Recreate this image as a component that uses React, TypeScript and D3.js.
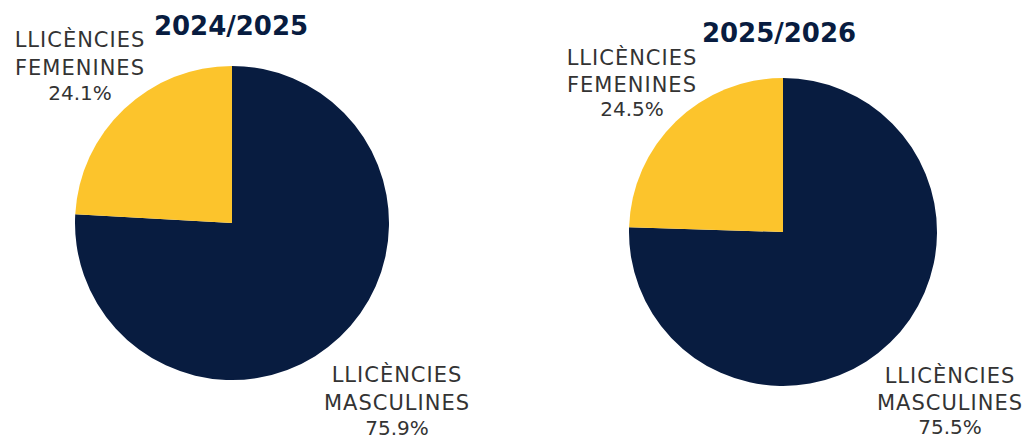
import React from "react";
import * as d3 from "d3";

const seasons = ["2024/2025", "2025/2026"];
const categoryLines = [
  ["LLICÈNCIES", "MASCULINES"],
  ["LLICÈNCIES", "FEMENINES"],
];
const mascValues = [75.9, 75.5];
const femValues = [24.1, 24.5];

const NAVY = "#081c40";
const YELLOW = "#fcc42c";
const GRAY = "#333333";

const layouts = [
  { cx: 232, cy: 223, r: 157, titleX: 231, titleY: 35, femX: 80, femY: 47, mascX: 397, mascY: 382, lh: 28 },
  { cx: 783, cy: 232, r: 154, titleX: 779, titleY: 42, femX: 632, femY: 65, mascX: 950, mascY: 383, lh: 27 },
];

function Label({ x, y, lh, lines, pct }: { x: number; y: number; lh: number; lines: string[]; pct: string }) {
  return (
    <g fill={GRAY} fontFamily="'DejaVu Sans', sans-serif" fontSize={21} textAnchor="middle">
      {lines.map((l, i) => (
        <text key={i} x={x} y={y + i * lh} letterSpacing={1}>{l}</text>
      ))}
      <text x={x} y={y + lines.length * lh - 3} fontSize={20}>{pct}</text>
    </g>
  );
}

export default function App() {
  const pie = d3.pie<number>().sort(null).value((d) => d);
  return (
    <svg width={1028} height={439} style={{ position: "absolute", left: 0, top: 0, background: "#fff" }}>
      {seasons.map((s, i) => {
        const L = layouts[i];
        const arcs = pie([mascValues[i], femValues[i]]);
        const arc = d3.arc<d3.PieArcDatum<number>>().innerRadius(0).outerRadius(L.r);
        return (
          <g key={s}>
            <g transform={`translate(${L.cx},${L.cy})`}>
              {arcs.map((a, j) => (
                <path key={j} d={arc(a) || ""} fill={j === 0 ? NAVY : YELLOW} />
              ))}
            </g>
            <text x={L.titleX} y={L.titleY} textAnchor="middle" fill={NAVY}
              fontFamily="'DejaVu Sans', sans-serif" fontWeight="bold" fontSize={26}>{s}</text>
            <Label x={L.femX} y={L.femY} lh={L.lh} lines={categoryLines[1]} pct={`${femValues[i].toFixed(1)}%`} />
            <Label x={L.mascX} y={L.mascY} lh={L.lh} lines={categoryLines[0]} pct={`${mascValues[i].toFixed(1)}%`} />
          </g>
        );
      })}
    </svg>
  );
}
